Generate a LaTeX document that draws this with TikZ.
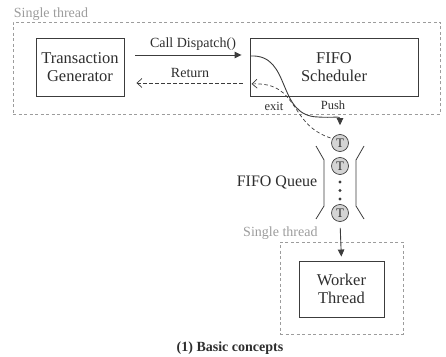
\documentclass[tikz,border=0pt]{standalone}
\usepackage{fontspec}
\setmainfont{Liberation Serif}
\usepackage{xcolor}
\usepackage{tikz}
\usetikzlibrary{arrows.meta,calc}
\definecolor{Ink}{HTML}{2E2E2E}
\definecolor{BoxLine}{HTML}{3C3C3C}
\definecolor{ThreadGrey}{HTML}{9C9C9C}
\definecolor{TokenFill}{HTML}{D4D4D4}

\begin{document}
\begin{tikzpicture}[x=1pt,y=1pt]
  \path[use as bounding box] (0,0) rectangle (446,356);
  \tikzset{
    bcThread/.style={
      draw=ThreadGrey, dash pattern=on 3pt off 2.5pt, line width=.6pt,
      inner sep=0pt
    },
    bcThreadLabel/.style={
      font=\fontsize{14}{16}\selectfont, text=ThreadGrey, inner sep=0pt
    },
    bcBlock/.style={
      draw=BoxLine, line width=.9pt, align=center, inner sep=0pt,
      font=\fontsize{16.5}{18}\selectfont, text=Ink
    },
    bcToken/.style={
      circle, draw=BoxLine, fill=TokenFill, line width=.7pt,
      minimum size=17pt, inner sep=0pt,
      font=\fontsize{13}{14}\selectfont, text=Ink
    },
    bcLabel/.style={
      font=\fontsize{14}{16}\selectfont, text=Ink, inner sep=0pt
    },
    bcSmall/.style={
      font=\fontsize{12.5}{14}\selectfont, text=Ink, inner sep=0pt
    },
    bcFlow/.style={
      -{Triangle[length=7pt,width=6.5pt]}, draw=BoxLine, line width=.9pt
    },
    bcBack/.style={
      -{Straight Barb[length=5pt,width=9pt]}, draw=BoxLine,
      line width=.7pt, dash pattern=on 3.5pt off 2.5pt
    }
  }

  % threads
  \node[bcThread, minimum width=427pt, minimum height=92pt]
    (mainThread) at (226.5,288) {};
  \node[bcThreadLabel, anchor=base west]
    (mainLabel) at ([xshift=1pt,yshift=4.5pt]mainThread.north west) {Single thread};
  \node[bcThread, minimum width=123pt, minimum height=92pt]
    (workThread) at (341.5,68) {};
  \node[bcThreadLabel, anchor=base east]
    (workLabel) at ([xshift=38pt,yshift=5pt]workThread.north west) {Single thread};

  % blocks
  \node[bcBlock, minimum width=88pt, minimum height=58pt]
    (gen) at (80,289) {Transaction\\Generator};
  \node[bcBlock, minimum width=168pt, minimum height=58pt]
    (sched) at (334,289) {FIFO\\Scheduler};
  \node[bcBlock, minimum width=85pt, minimum height=56pt]
    (worker) at (341.5,67) {Worker\\Thread};

  % queue
  \node[bcToken] (t1) at (340,213) {T};
  \node[bcToken] (t2) at (340,190) {T};
  \node[bcToken] (t3) at (340,143) {T};
  \foreach \y in {174,165.5,157}
    \fill[BoxLine] (340,\y) circle (1.7pt);
  \draw[BoxLine, line width=.8pt] (316,210) -- (324,196) -- (324,150) -- (316,137);
  \draw[BoxLine, line width=.8pt] (364,210) -- (356,196) -- (356,150) -- (364,137);
  \node[font=\fontsize{16}{18}\selectfont, text=Ink, inner sep=0pt]
    (queueLabel) at (277,173) {FIFO Queue};

  % calls
  \draw[bcFlow, shorten <=11pt, shorten >=8pt]
    ([yshift=12pt]gen.east) -- ([yshift=12pt]sched.west);
  \node[bcLabel] (callLabel) at (193,312) {Call Dispatch()};
  \draw[bcBack, shorten <=7pt, shorten >=12pt]
    ([yshift=-16pt]sched.west) -- ([yshift=-16pt]gen.east);
  \node[bcLabel] (retLabel) at (190,283) {Return};

  \draw[bcFlow]
    ([xshift=1pt,yshift=11pt]sched.west) .. controls (292,302) and (276,240) ..
    (318,239) .. controls (333,238) and (340,240) .. ([yshift=9pt]t1.north);
  \node[bcSmall] (pushLabel) at (333,251) {Push};
  \draw[bcBack, shorten <=2pt, shorten >=2pt]
    (t1.150) .. controls (288,232) and (300,274) .. ([yshift=-17pt]sched.west);
  \node[bcSmall] (exitLabel) at (274,250) {exit};

  \draw[bcFlow, shorten <=6pt, shorten >=4pt] (t3.south) -- (worker.north);

  \node[font=\bfseries\fontsize{14}{16}\selectfont, text=Ink, inner sep=0pt, anchor=base]
    (caption) at (230,4.5) {(1) Basic concepts};
\end{tikzpicture}
\end{document}
